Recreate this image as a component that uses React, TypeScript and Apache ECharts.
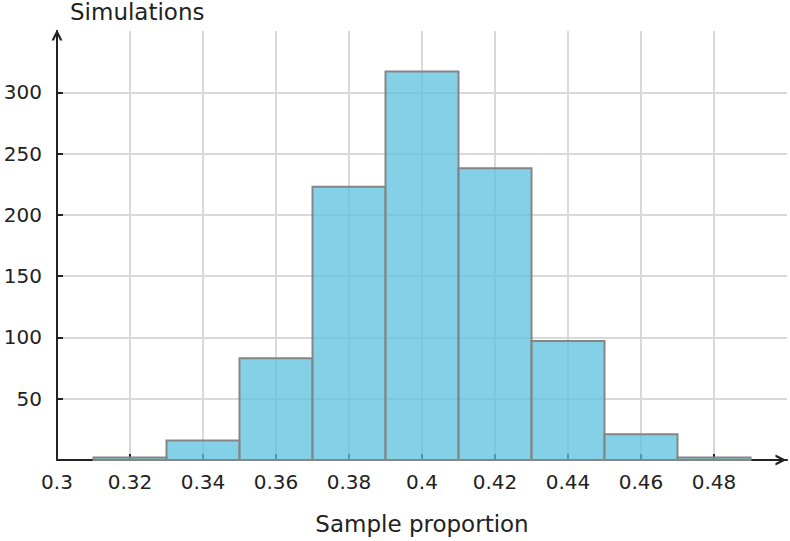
import { useEffect, useRef } from 'react'
import * as echarts from 'echarts'

// histogram bins (sample proportion) and simulation counts
const binStarts = [0.31, 0.33, 0.35, 0.37, 0.39, 0.41, 0.43, 0.45, 0.47]
const binEnds = [0.33, 0.35, 0.37, 0.39, 0.41, 0.43, 0.45, 0.47, 0.49]
const counts = [2, 16, 83, 223, 317, 238, 97, 21, 2]

const xTicks = [0.3, 0.32, 0.34, 0.36, 0.38, 0.4, 0.42, 0.44, 0.46, 0.48]
const yTicks = [50, 100, 150, 200, 250, 300]

const FONT = 'DejaVu Sans'
const INK = '#222'
// open chevron arrow head, pointing up (rotated by the axis)
const ARROW = 'path://M0,10 L5,0 L10,10 L7.8,10 L5,4.4 L2.2,10 Z'

export default function App() {
  const chartRef = useRef<HTMLDivElement>(null)

  useEffect(() => {
    if (!chartRef.current) return
    const chart = echarts.init(chartRef.current, undefined, { renderer: 'svg' })

    const data = binStarts.map((s, i) => [s, binEnds[i], counts[i]])

    const option: echarts.EChartsOption = {
      animation: false,
      grid: { left: 57, right: 3, top: 31, bottom: 81 },
      xAxis: {
        type: 'value',
        min: 0.3,
        max: 0.5,
        interval: 0.02,
        name: 'Sample proportion',
        nameLocation: 'middle',
        nameGap: 52,
        nameTextStyle: { fontFamily: FONT, fontSize: 23, color: INK },
        axisLine: {
          onZero: false,
          lineStyle: { color: INK, width: 2 },
          symbol: ['none', ARROW],
          symbolSize: [11, 11],
          symbolOffset: [0, -6],
        },
        axisTick: {
          show: true,
          inside: true,
          length: 6,
          lineStyle: { color: INK, width: 2 },
          customValues: xTicks,
        },
        axisLabel: {
          fontFamily: FONT,
          fontSize: 20,
          color: INK,
          margin: 12,
          customValues: xTicks,
          formatter: (v: number) => String(parseFloat(v.toFixed(2))),
        },
        splitLine: { show: true, lineStyle: { color: '#d9d9d9', width: 2 } },
      },
      yAxis: {
        type: 'value',
        min: 0,
        max: 350,
        interval: 50,
        name: 'Simulations',
        nameLocation: 'end',
        nameGap: 8,
        nameTextStyle: { fontFamily: FONT, fontSize: 23, color: INK, align: 'left', padding: [0, 0, 0, 13] },
        axisLine: {
          show: true,
          onZero: false,
          lineStyle: { color: INK, width: 2 },
          symbol: ['none', ARROW],
          symbolSize: [11, 11],
          symbolOffset: [0, -4],
        },
        axisTick: {
          show: true,
          inside: true,
          length: 6,
          lineStyle: { color: INK, width: 2 },
          customValues: yTicks,
        },
        axisLabel: {
          fontFamily: FONT,
          fontSize: 20,
          color: INK,
          margin: 15,
          customValues: yTicks,
        },
        splitLine: { show: true, lineStyle: { color: '#d9d9d9', width: 2 } },
      },
      series: [
        {
          type: 'custom',
          data,
          encode: { x: [0, 1], y: 2 },
          renderItem: (_params: any, api: any) => {
            const p0 = api.coord([api.value(0), api.value(2)])
            const p1 = api.coord([api.value(1), 0])
            return {
              type: 'rect',
              shape: { x: p0[0], y: p0[1], width: p1[0] - p0[0], height: p1[1] - p0[1] },
              style: { fill: 'rgba(91,192,222,0.75)', stroke: '#858585', lineWidth: 2 },
            }
          },
        },
      ],
    }

    chart.setOption(option)
    return () => chart.dispose()
  }, [])

  return (
    <div
      ref={chartRef}
      style={{ position: 'fixed', left: 0, top: 0, width: 790, height: 541, background: '#fff' }}
    />
  )
}
